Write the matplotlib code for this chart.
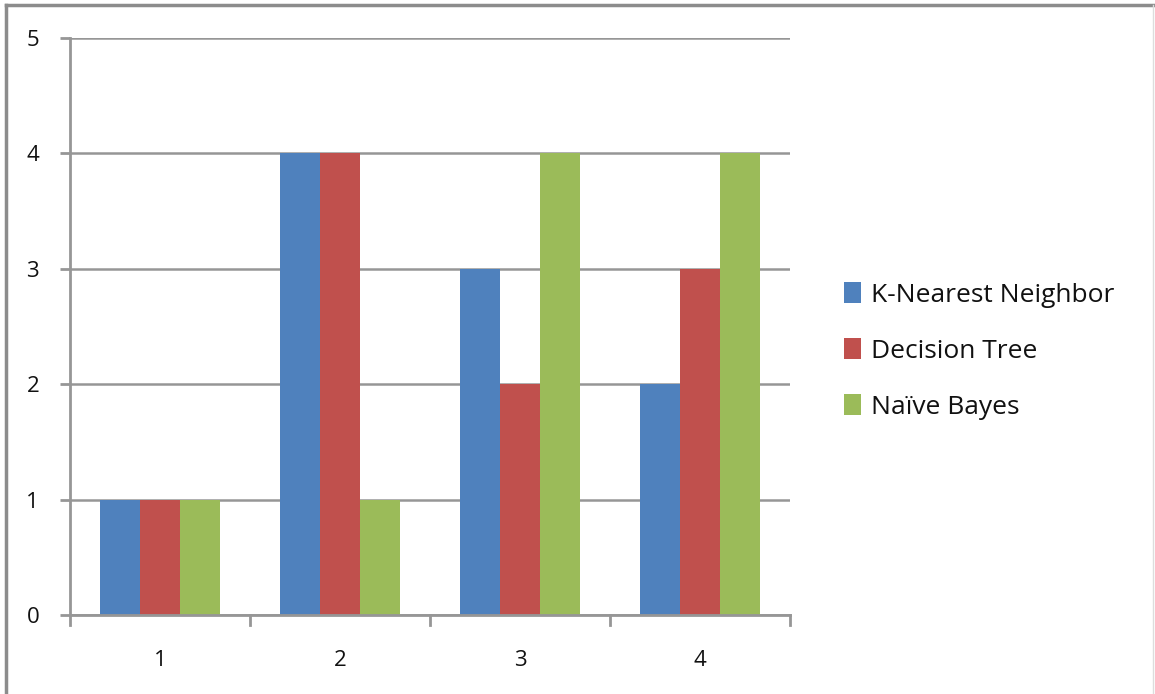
import matplotlib
matplotlib.use("Agg")
import matplotlib.pyplot as plt
from matplotlib.lines import Line2D
import numpy as np

categories = ["1", "2", "3", "4"]
series_names = ["K-Nearest Neighbor", "Decision Tree", "Naïve Bayes"]
knn = [1, 4, 3, 2]
tree = [1, 4, 2, 3]
bayes = [1, 1, 4, 4]
y_ticks = [0, 1, 2, 3, 4, 5]

colors = ["#4F81BD", "#C0504D", "#9BBB59"]
grid_color = "#969696"

plt.rcParams["font.family"] = ["Open Sans", "DejaVu Sans"]

W, H = 1155, 694
fig = plt.figure(figsize=(W / 100, H / 100), dpi=100)
ax = fig.add_axes([70 / W, 1 - 615 / H, 720 / W, 577 / H])

x = np.arange(len(categories))
bar_w = 1 / 4.5
for i, (vals, name, c) in enumerate(zip([knn, tree, bayes], series_names, colors)):
    ax.bar(x + (i - 1) * bar_w, vals, width=bar_w, color=c, label=name, zorder=3)

ax.set_xlim(-0.5, len(categories) - 0.5)
ax.set_ylim(0, 5)
ax.set_yticks(y_ticks)
ax.set_yticklabels([str(t) for t in y_ticks], fontsize=16, color="#111111")
ax.set_xticks(x)
ax.set_xticklabels(categories, fontsize=16, color="#111111")
ax.tick_params(axis="x", length=0, pad=25)
ax.tick_params(axis="y", length=7.2, width=2, color=grid_color, pad=15)

# category boundary ticks below the x axis
for b in np.arange(-0.5, len(categories), 1.0):
    ax.plot([b, b], [0, -0.087], color=grid_color, lw=2, clip_on=False, zorder=4)

ax.grid(axis="y", color=grid_color, lw=1.8, zorder=0)
for s in ["top", "right"]:
    ax.spines[s].set_visible(False)
for s in ["left", "bottom"]:
    ax.spines[s].set_color(grid_color)
    ax.spines[s].set_linewidth(2)
    ax.spines[s].set_zorder(4)

leg = ax.legend(loc="center left", bbox_to_anchor=(1.06, (615 - 351) / 577), frameon=False,
                fontsize=19, handlelength=0.65, handleheight=0.85, handletextpad=0.4,
                labelspacing=1.15, borderaxespad=0)
for t in leg.get_texts():
    t.set_color("#111111")

# outer chart border (top, left, right)
fig.add_artist(Line2D([6 / W, 6 / W], [0, 1 - 5 / H], color="#8C8C8C", lw=2.5,
                      transform=fig.transFigure))
fig.add_artist(Line2D([6 / W, 1153 / W], [1 - 5 / H, 1 - 5 / H], color="#8C8C8C",
                      lw=2.5, transform=fig.transFigure))
fig.add_artist(Line2D([1153 / W, 1153 / W], [0, 1 - 5 / H], color="#DDDDDD", lw=1,
                      transform=fig.transFigure))

fig.savefig("out.png", dpi=100)
